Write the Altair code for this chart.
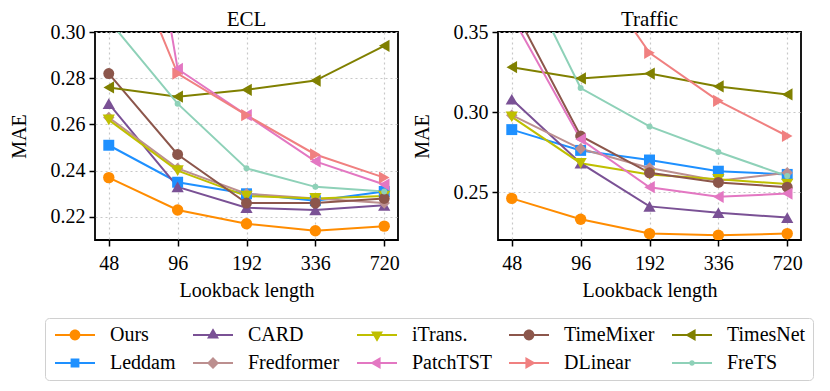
import altair as alt
import pandas as pd

lookbacks = ["48", "96", "192", "336", "720"]
models = ["Ours", "Leddam", "CARD", "Fredformer", "iTrans.",
          "TimeMixer", "TimesNet", "PatchTST", "DLinear", "FreTS"]

# ECL (MAE)
ecl_ours = [0.237, 0.223, 0.217, 0.214, 0.216]
ecl_leddam = [0.251, 0.235, 0.230, 0.227, 0.231]
ecl_card = [0.269, 0.233, 0.224, 0.223, 0.225]
ecl_fredformer = [0.263, 0.241, 0.230, 0.228, 0.226]
ecl_itrans = [0.262, 0.240, 0.229, 0.228, 0.229]
ecl_timemixer = [0.282, 0.247, 0.226, 0.226, 0.228]
ecl_timesnet = [0.276, 0.272, 0.275, 0.279, 0.294]
ecl_patchtst = [0.458, 0.284, 0.264, 0.244, 0.234]
ecl_dlinear = [0.354, 0.282, 0.264, 0.247, 0.237]
ecl_frets = [0.305, 0.269, 0.241, 0.233, 0.231]

# Traffic (MAE)
traffic_ours = [0.246, 0.233, 0.224, 0.223, 0.224]
traffic_leddam = [0.289, 0.276, 0.270, 0.263, 0.261]
traffic_card = [0.308, 0.268, 0.241, 0.237, 0.234]
traffic_fredformer = [0.298, 0.277, 0.265, 0.257, 0.262]
traffic_itrans = [0.297, 0.268, 0.261, 0.258, 0.255]
traffic_timemixer = [0.367, 0.285, 0.262, 0.256, 0.253]
traffic_timesnet = [0.328, 0.321, 0.324, 0.316, 0.311]
traffic_patchtst = [0.360, 0.283, 0.253, 0.247, 0.249]
traffic_dlinear = [0.420, 0.399, 0.337, 0.307, 0.285]
traffic_frets = [0.402, 0.315, 0.291, 0.275, 0.260]

ecl = [ecl_ours, ecl_leddam, ecl_card, ecl_fredformer, ecl_itrans,
       ecl_timemixer, ecl_timesnet, ecl_patchtst, ecl_dlinear, ecl_frets]
traffic = [traffic_ours, traffic_leddam, traffic_card, traffic_fredformer, traffic_itrans,
           traffic_timemixer, traffic_timesnet, traffic_patchtst, traffic_dlinear, traffic_frets]

# styles
colors = {"Ours": "#FF8C00", "Leddam": "#1E90FF", "CARD": "#7A5195", "Fredformer": "#BC8F8F",
          "iTrans.": "#BFBF00", "TimeMixer": "#8C564B", "TimesNet": "#808000",
          "PatchTST": "#E377C2", "DLinear": "#F08080", "FreTS": "#8ED1B8"}
markers = {"Ours": "circle", "Leddam": "square", "CARD": "triangle-up", "Fredformer": "diamond",
           "iTrans.": "triangle-down", "TimeMixer": "circle", "TimesNet": "triangle-left",
           "PatchTST": "triangle-left", "DLinear": "triangle-right", "FreTS": "circle"}
msizes = {"Ours": 130, "Leddam": 120, "CARD": 150, "Fredformer": 130, "iTrans.": 150,
          "TimeMixer": 120, "TimesNet": 150, "PatchTST": 150, "DLinear": 150, "FreTS": 36}

# legend order (row-major, 5 columns)
legend_order = ["Ours", "CARD", "iTrans.", "TimeMixer", "TimesNet",
                "Leddam", "Fredformer", "PatchTST", "DLinear", "FreTS"]


# legend glyphs: short line with marker (unit = 10 px at symbolSize 400)
def seg(h=0.11):
    return f"M-2,-{h}L2,-{h}L2,{h}L-2,{h}Z"


def circle(r):
    return f"M{r},0A{r},{r} 0 1,1 -{r},0A{r},{r} 0 1,1 {r},0Z"


legend_shape = {
    "circle": lambda m: circle(0.54 if m != "FreTS" else 0.28),
    "square": lambda m: "M-0.44,-0.44L0.44,-0.44L0.44,0.44L-0.44,0.44Z",
    "triangle-up": lambda m: "M0,-0.68L0.6,0.36L-0.6,0.36Z",
    "triangle-down": lambda m: "M0,0.68L-0.6,-0.36L0.6,-0.36Z",
    "triangle-left": lambda m: "M-0.68,0L0.36,-0.6L0.36,0.6Z",
    "triangle-right": lambda m: "M0.68,0L-0.36,0.6L-0.36,-0.6Z",
    "diamond": lambda m: "M0,-0.6L0.6,0L0,0.6L-0.6,0Z",
}
legend_paths = [seg() + legend_shape[markers[m]](m) for m in legend_order]

rows = []
for ds, table in (("ECL", ecl), ("Traffic", traffic)):
    for m, vals in zip(models, table):
        for i, (lb, v) in enumerate(zip(lookbacks, vals)):
            rows.append({"dataset": ds, "model": m, "lookback": lb, "idx": i, "value": v,
                         "col": colors[m], "marker": markers[m], "msize": msizes[m]})
df = pd.DataFrame(rows)

FONT = "Liberation Serif"
color_scale = alt.Scale(domain=legend_order, range=[colors[m] for m in legend_order])


def panel(ds, domain, ticks, with_legend):
    d = df[df["dataset"] == ds]
    base = alt.Chart(d).encode(
        x=alt.X("lookback:O", sort=lookbacks,
                scale=alt.Scale(type="point", padding=0.2),
                axis=alt.Axis(title="Lookback length", labelAngle=0)),
        y=alt.Y("value:Q", scale=alt.Scale(domain=domain, nice=False, zero=False),
                axis=alt.Axis(title="MAE", values=ticks, format=".2f")),
    )
    lines = base.mark_line(strokeWidth=2, clip=True).encode(
        stroke=alt.Stroke("col:N", scale=None),
        detail="model:N",
        order=alt.Order("idx:Q"),
    )
    pts = base.mark_point(filled=True, opacity=1, clip=True).encode(
        fill=alt.Fill("col:N", scale=None),
        shape=alt.Shape("marker:N", scale=None),
        size=alt.Size("msize:Q", scale=None),
    )
    layers = [lines, pts]
    if with_legend:
        leg = alt.Legend(title=None, orient="none", legendX=-50, legendY=286,
                         direction="horizontal", columns=5)
        inv = base.mark_point(filled=True, opacity=0, clip=True).encode(
            color=alt.Color("model:N", scale=color_scale, legend=leg),
            shape=alt.Shape("model:N", scale=alt.Scale(domain=legend_order, range=legend_paths),
                            legend=leg),
        )
        layers.append(inv)
    return alt.layer(*layers).properties(
        width=303, height=208,
        title=alt.TitleParams(ds, fontSize=21, font=FONT, fontWeight="normal", offset=-8),
    )


left = panel("ECL", [0.21, 0.30], [0.22, 0.24, 0.26, 0.28, 0.30], True)
right = panel("Traffic", [0.22, 0.35], [0.25, 0.30, 0.35], False)

chart = alt.hconcat(left, right, spacing=100, bounds="flush").properties(
    padding=0
).configure_view(
    stroke="black", strokeWidth=1.8
).configure_axis(
    labelFont=FONT, titleFont=FONT, labelFontSize=20, titleFontSize=20,
    titleFontWeight="normal", labelColor="black", titleColor="black",
    domain=False, tickColor="black", tickWidth=1.5, tickSize=6,
    grid=True, gridColor="#c8c8c8", gridDash=[2, 3], gridWidth=1.2,
    labelPadding=4,
).configure_axisY(
    titlePadding=21,
).configure_axisX(
    labelPadding=7, titlePadding=7,
).configure_legend(
    labelFont=FONT, labelFontSize=20, labelColor="black",
    symbolSize=400, symbolStrokeWidth=0, symbolOpacity=1, symbolOffset=13,
    strokeColor="#d0d0d0", fillColor="white", cornerRadius=4, padding=7,
    columnPadding=14, rowPadding=8, labelOffset=25,
)

chart.save("out.html", embed_options={"renderer": "svg", "actions": False})
